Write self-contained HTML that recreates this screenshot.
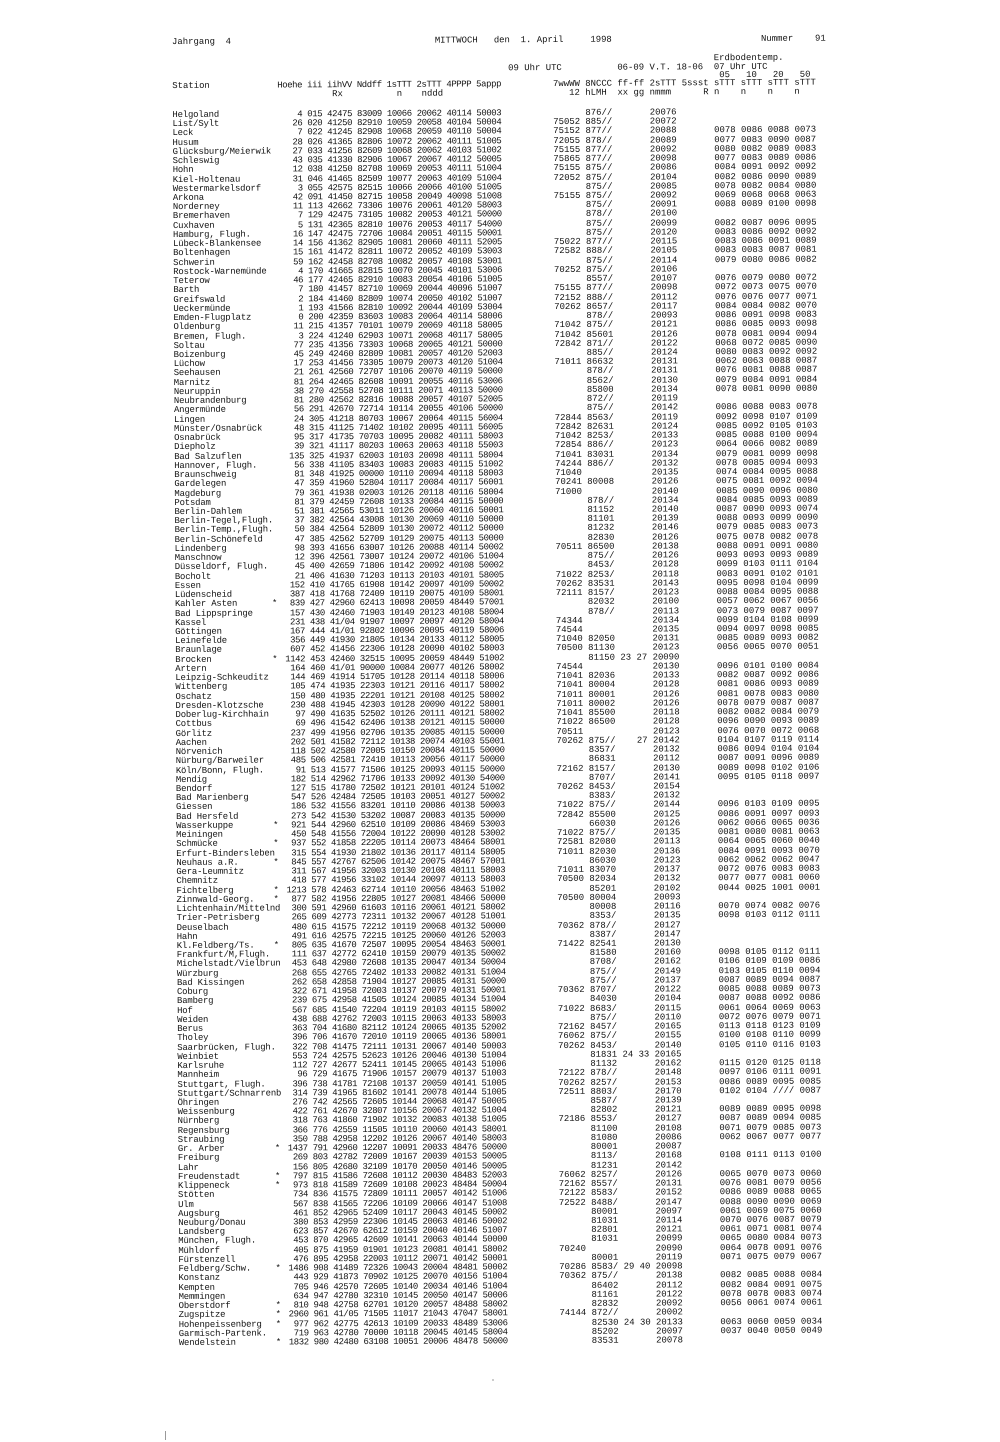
<!DOCTYPE html>
<html>
<head>
<meta charset="utf-8">
<style>
html,body{margin:0;padding:0;background:#fff}
body{width:1000px;height:1442px;overflow:hidden;position:relative}
#p{position:absolute;left:172px;top:0;width:720px;height:1400px;font-family:"Liberation Mono","DejaVu Sans Mono",monospace;font-size:8.95px;line-height:9.25px;color:#111;white-space:normal;transform:rotate(-0.3deg);transform-origin:0 40px}
#p span{position:absolute;top:0;white-space:pre}
.hl{position:absolute;left:0;height:9.25px;width:720px}
#r{position:absolute;left:0;top:110.9px;width:720px}
#r>div{position:relative;height:9.24px;overflow:visible}
.n{left:0;letter-spacing:-0.18px}
.s{left:97px}
.h{left:105px;width:24.9px;text-align:right;letter-spacing:-0.39px}
.m{left:134.9px;letter-spacing:-0.39px}
.nar{letter-spacing:-0.39px}
.w{left:71ch}
.c{left:77ch}
.t{left:89ch}
.g{left:101ch}
.mark{position:absolute;left:165px;top:1431px;width:1px;height:9px;background:#999}
.dot{position:absolute;left:492px;top:1379px;width:2px;height:2px;background:#ccc}
</style>
</head>
<body>
<div id="p">
<div class="hl" style="top:38px"><span style="left:0">Jahrgang  4</span><span style="left:49ch">MITTWOCH</span><span style="left:60ch">den</span><span style="left:65ch">1. April</span><span style="left:78ch">1998</span><span style="left:589px">Nummer</span><span style="left:643px">91</span></div>
<div class="hl" style="top:57px"><span style="left:101ch">Erdbodentemp.</span></div>
<div class="hl" style="top:65.5px"><span style="left:336px">09 Uhr UTC</span><span style="left:83ch">06-09</span><span style="left:89ch">V.T.</span><span style="left:94ch">18-06</span><span style="left:101ch">07 Uhr UTC</span></div>
<div class="hl" style="top:73.8px"><span style="left:102ch">05</span><span style="left:107ch">10</span><span style="left:112ch">20</span><span style="left:117ch">50</span></div>
<div class="hl" style="top:81.5px"><span style="left:0">Station</span><span class="nar" style="left:105px">Hoehe iii iihVV Nddff 1sTTT 2sTTT 4PPPP 5appp</span><span style="left:71ch">7wwWW 8NCCC ff-ff 2sTTT 5ssst sTTT sTTT sTTT sTTT</span></div>
<div class="hl" style="top:90.6px"><span style="left:159.8px">Rx</span><span style="left:224.5px">n</span><span style="left:249.4px">nddd</span><span style="left:74ch">12</span><span style="left:77ch">hLMH</span><span style="left:83ch">xx gg</span><span style="left:89ch">nmmm</span><span style="left:99ch">R</span><span style="left:101ch">n</span><span style="left:106ch">n</span><span style="left:111ch">n</span><span style="left:116ch">n</span></div>
<div id="r">
<div><span class="n">Helgoland</span><span class="h">4</span><span class="m">015 42475 83009 10066 20062 40114 50003</span><span class="c">876//</span><span class="t">20076</span></div>
<div><span class="n">List/Sylt</span><span class="h">26</span><span class="m">020 41250 82910 10059 20058 40104 50004</span><span class="w">75052</span><span class="c">885//</span><span class="t">20072</span></div>
<div><span class="n">Leck</span><span class="h">7</span><span class="m">022 41245 82908 10068 20059 40110 50004</span><span class="w">75152</span><span class="c">877//</span><span class="t">20088</span><span class="g">0078 0086 0088 0073</span></div>
<div><span class="n">Husum</span><span class="h">28</span><span class="m">026 41365 82806 10072 20062 40111 51005</span><span class="w">72055</span><span class="c">878//</span><span class="t">20089</span><span class="g">0077 0083 0090 0087</span></div>
<div><span class="n">Glücksburg/Meierwik</span><span class="h">27</span><span class="m">033 41256 82609 10068 20062 40103 51002</span><span class="w">75155</span><span class="c">877//</span><span class="t">20092</span><span class="g">0080 0082 0089 0083</span></div>
<div><span class="n">Schleswig</span><span class="h">43</span><span class="m">035 41330 82906 10067 20067 40112 50005</span><span class="w">75865</span><span class="c">877//</span><span class="t">20098</span><span class="g">0077 0083 0089 0086</span></div>
<div><span class="n">Hohn</span><span class="h">12</span><span class="m">038 41250 82708 10069 20053 40111 51004</span><span class="w">75155</span><span class="c">875//</span><span class="t">20086</span><span class="g">0084 0091 0092 0092</span></div>
<div><span class="n">Kiel-Holtenau</span><span class="h">31</span><span class="m">046 41465 82509 10077 20063 40109 51004</span><span class="w">72052</span><span class="c">875//</span><span class="t">20104</span><span class="g">0082 0086 0090 0089</span></div>
<div><span class="n">Westermarkelsdorf</span><span class="h">3</span><span class="m">055 42575 82515 10066 20066 40100 51005</span><span class="c">875//</span><span class="t">20085</span><span class="g">0078 0082 0084 0080</span></div>
<div><span class="n">Arkona</span><span class="h">42</span><span class="m">091 41450 82715 10058 20049 40098 51008</span><span class="w">75155</span><span class="c">875//</span><span class="t">20092</span><span class="g">0069 0068 0068 0063</span></div>
<div><span class="n">Norderney</span><span class="h">11</span><span class="m">113 42662 73306 10076 20061 40120 58003</span><span class="c">875//</span><span class="t">20091</span><span class="g">0088 0089 0100 0098</span></div>
<div><span class="n">Bremerhaven</span><span class="h">7</span><span class="m">129 42475 73105 10082 20053 40121 50000</span><span class="c">878//</span><span class="t">20100</span></div>
<div><span class="n">Cuxhaven</span><span class="h">5</span><span class="m">131 42365 82810 10076 20053 40117 54000</span><span class="c">875//</span><span class="t">20099</span><span class="g">0082 0087 0096 0095</span></div>
<div><span class="n">Hamburg, Flugh.</span><span class="h">16</span><span class="m">147 42475 72706 10084 20051 40115 50001</span><span class="c">875//</span><span class="t">20120</span><span class="g">0083 0086 0092 0092</span></div>
<div><span class="n">Lübeck-Blankensee</span><span class="h">14</span><span class="m">156 41362 82905 10081 20060 40111 52005</span><span class="w">75022</span><span class="c">877//</span><span class="t">20115</span><span class="g">0083 0086 0091 0089</span></div>
<div><span class="n">Boltenhagen</span><span class="h">15</span><span class="m">161 41472 82811 10072 20052 40109 53003</span><span class="w">72582</span><span class="c">888//</span><span class="t">20105</span><span class="g">0083 0083 0087 0081</span></div>
<div><span class="n">Schwerin</span><span class="h">59</span><span class="m">162 42458 82708 10082 20057 40108 53001</span><span class="c">875//</span><span class="t">20114</span><span class="g">0079 0080 0086 0082</span></div>
<div><span class="n">Rostock-Warnemünde</span><span class="h">4</span><span class="m">170 41665 82815 10070 20045 40101 53006</span><span class="w">70252</span><span class="c">875//</span><span class="t">20106</span></div>
<div><span class="n">Teterow</span><span class="h">46</span><span class="m">177 42465 82910 10083 20054 40106 51005</span><span class="c">8557/</span><span class="t">20107</span><span class="g">0076 0079 0080 0072</span></div>
<div><span class="n">Barth</span><span class="h">7</span><span class="m">180 41457 82710 10069 20044 40096 51007</span><span class="w">75155</span><span class="c">877//</span><span class="t">20098</span><span class="g">0072 0073 0075 0070</span></div>
<div><span class="n">Greifswald</span><span class="h">2</span><span class="m">184 41460 82809 10074 20050 40102 51007</span><span class="w">72152</span><span class="c">888//</span><span class="t">20112</span><span class="g">0076 0076 0077 0071</span></div>
<div><span class="n">Ueckermünde</span><span class="h">1</span><span class="m">193 41566 82810 10092 20044 40109 53004</span><span class="w">70262</span><span class="c">8657/</span><span class="t">20117</span><span class="g">0084 0084 0082 0070</span></div>
<div><span class="n">Emden-Flugplatz</span><span class="h">0</span><span class="m">200 42359 83603 10083 20064 40114 58006</span><span class="c">878//</span><span class="t">20093</span><span class="g">0086 0091 0098 0083</span></div>
<div><span class="n">Oldenburg</span><span class="h">11</span><span class="m">215 41357 70101 10079 20069 40118 58005</span><span class="w">71042</span><span class="c">875//</span><span class="t">20121</span><span class="g">0086 0085 0093 0098</span></div>
<div><span class="n">Bremen, Flugh.</span><span class="h">3</span><span class="m">224 41240 62903 10071 20068 40117 58005</span><span class="w">71042</span><span class="c">85601</span><span class="t">20126</span><span class="g">0078 0081 0094 0094</span></div>
<div><span class="n">Soltau</span><span class="h">77</span><span class="m">235 41356 73303 10068 20065 40121 50000</span><span class="w">72842</span><span class="c">871//</span><span class="t">20122</span><span class="g">0068 0072 0085 0090</span></div>
<div><span class="n">Boizenburg</span><span class="h">45</span><span class="m">249 42460 82809 10081 20057 40120 52003</span><span class="c">885//</span><span class="t">20124</span><span class="g">0080 0083 0092 0092</span></div>
<div><span class="n">Lüchow</span><span class="h">17</span><span class="m">253 41456 73305 10079 20073 40120 51004</span><span class="w">71011</span><span class="c">86632</span><span class="t">20131</span><span class="g">0062 0063 0088 0087</span></div>
<div><span class="n">Seehausen</span><span class="h">21</span><span class="m">261 42560 72707 10106 20070 40119 50000</span><span class="c">878//</span><span class="t">20131</span><span class="g">0076 0081 0088 0087</span></div>
<div><span class="n">Marnitz</span><span class="h">81</span><span class="m">264 42465 82608 10091 20055 40116 53006</span><span class="c">8562/</span><span class="t">20130</span><span class="g">0079 0084 0091 0084</span></div>
<div><span class="n">Neuruppin</span><span class="h">38</span><span class="m">270 42558 52708 10111 20071 40113 50000</span><span class="c">85800</span><span class="t">20134</span><span class="g">0078 0081 0090 0080</span></div>
<div><span class="n">Neubrandenburg</span><span class="h">81</span><span class="m">280 42562 82816 10088 20057 40107 52005</span><span class="c">872//</span><span class="t">20119</span></div>
<div><span class="n">Angermünde</span><span class="h">56</span><span class="m">291 42670 72714 10114 20055 40106 50000</span><span class="c">875//</span><span class="t">20142</span><span class="g">0086 0088 0083 0078</span></div>
<div><span class="n">Lingen</span><span class="h">24</span><span class="m">305 41218 80703 10067 20064 40115 56004</span><span class="w">72844</span><span class="c">8563/</span><span class="t">20119</span><span class="g">0092 0098 0107 0109</span></div>
<div><span class="n">Münster/Osnabrück</span><span class="h">48</span><span class="m">315 41125 71402 10102 20095 40111 56005</span><span class="w">72842</span><span class="c">82631</span><span class="t">20124</span><span class="g">0085 0092 0105 0103</span></div>
<div><span class="n">Osnabrück</span><span class="h">95</span><span class="m">317 41735 70703 10095 20082 40111 58003</span><span class="w">71042</span><span class="c">8253/</span><span class="t">20133</span><span class="g">0085 0088 0100 0094</span></div>
<div><span class="n">Diepholz</span><span class="h">39</span><span class="m">321 41117 80203 10063 20063 40118 55003</span><span class="w">72854</span><span class="c">886//</span><span class="t">20123</span><span class="g">0064 0066 0082 0089</span></div>
<div><span class="n">Bad Salzuflen</span><span class="h">135</span><span class="m">325 41937 62003 10103 20098 40111 58004</span><span class="w">71041</span><span class="c">83031</span><span class="t">20134</span><span class="g">0079 0081 0099 0098</span></div>
<div><span class="n">Hannover, Flugh.</span><span class="h">56</span><span class="m">338 41105 83403 10083 20083 40115 51002</span><span class="w">74244</span><span class="c">886//</span><span class="t">20132</span><span class="g">0078 0085 0094 0093</span></div>
<div><span class="n">Braunschweig</span><span class="h">81</span><span class="m">348 41925 00000 10110 20094 40118 58003</span><span class="w">71040</span><span class="t">20135</span><span class="g">0074 0084 0095 0088</span></div>
<div><span class="n">Gardelegen</span><span class="h">47</span><span class="m">359 41960 52804 10117 20084 40117 56001</span><span class="w">70241</span><span class="c">80008</span><span class="t">20126</span><span class="g">0075 0081 0092 0094</span></div>
<div><span class="n">Magdeburg</span><span class="h">79</span><span class="m">361 41938 02003 10126 20118 40116 58004</span><span class="w">71000</span><span class="t">20140</span><span class="g">0085 0090 0096 0080</span></div>
<div><span class="n">Potsdam</span><span class="h">81</span><span class="m">379 42459 72608 10133 20084 40115 50000</span><span class="c">878//</span><span class="t">20134</span><span class="g">0084 0085 0093 0089</span></div>
<div><span class="n">Berlin-Dahlem</span><span class="h">51</span><span class="m">381 42565 53011 10126 20060 40116 50001</span><span class="c">81152</span><span class="t">20140</span><span class="g">0087 0090 0093 0074</span></div>
<div><span class="n">Berlin-Tegel,Flugh.</span><span class="h">37</span><span class="m">382 42564 43008 10130 20069 40110 50000</span><span class="c">81101</span><span class="t">20139</span><span class="g">0088 0093 0099 0090</span></div>
<div><span class="n">Berlin-Temp.,Flugh.</span><span class="h">50</span><span class="m">384 42564 52809 10130 20072 40112 50000</span><span class="c">81232</span><span class="t">20146</span><span class="g">0079 0085 0083 0073</span></div>
<div><span class="n">Berlin-Schönefeld</span><span class="h">47</span><span class="m">385 42562 52709 10129 20075 40113 50000</span><span class="c">82830</span><span class="t">20126</span><span class="g">0075 0078 0082 0078</span></div>
<div><span class="n">Lindenberg</span><span class="h">98</span><span class="m">393 41656 63007 10126 20088 40114 50002</span><span class="w">70511</span><span class="c">86500</span><span class="t">20138</span><span class="g">0088 0091 0091 0080</span></div>
<div><span class="n">Manschnow</span><span class="h">12</span><span class="m">396 42561 73007 10124 20072 40106 51004</span><span class="c">875//</span><span class="t">20126</span><span class="g">0093 0093 0093 0089</span></div>
<div><span class="n">Düsseldorf, Flugh.</span><span class="h">45</span><span class="m">400 42659 71806 10142 20092 40108 50002</span><span class="c">8453/</span><span class="t">20128</span><span class="g">0099 0103 0111 0104</span></div>
<div><span class="n">Bocholt</span><span class="h">21</span><span class="m">406 41630 71203 10113 20103 40101 58005</span><span class="w">71022</span><span class="c">8253/</span><span class="t">20118</span><span class="g">0083 0091 0102 0101</span></div>
<div><span class="n">Essen</span><span class="h">152</span><span class="m">410 41765 61908 10142 20097 40109 50002</span><span class="w">70262</span><span class="c">83531</span><span class="t">20143</span><span class="g">0095 0098 0104 0099</span></div>
<div><span class="n">Lüdenscheid</span><span class="h">387</span><span class="m">418 41768 72409 10119 20075 40109 58001</span><span class="w">72111</span><span class="c">8157/</span><span class="t">20123</span><span class="g">0088 0084 0095 0088</span></div>
<div><span class="n">Kahler Asten</span><span class="s">*</span><span class="h">839</span><span class="m">427 42960 62413 10098 20059 48449 57001</span><span class="c">82032</span><span class="t">20100</span><span class="g">0057 0062 0067 0056</span></div>
<div><span class="n">Bad Lippspringe</span><span class="h">157</span><span class="m">430 42460 71903 10149 20123 40108 58004</span><span class="c">878//</span><span class="t">20113</span><span class="g">0073 0079 0087 0097</span></div>
<div><span class="n">Kassel</span><span class="h">231</span><span class="m">438 41/04 91907 10097 20097 40120 58004</span><span class="w">74344</span><span class="t">20134</span><span class="g">0099 0104 0108 0099</span></div>
<div><span class="n">Göttingen</span><span class="h">167</span><span class="m">444 41/01 92802 10096 20095 40119 58006</span><span class="w">74544</span><span class="t">20135</span><span class="g">0094 0097 0098 0085</span></div>
<div><span class="n">Leinefelde</span><span class="h">356</span><span class="m">449 41930 21805 10134 20133 40112 58005</span><span class="w">71040</span><span class="c">82050</span><span class="t">20131</span><span class="g">0085 0089 0093 0082</span></div>
<div><span class="n">Braunlage</span><span class="h">607</span><span class="m">452 41456 22306 10128 20090 40102 58003</span><span class="w">70500</span><span class="c">81130</span><span class="t">20123</span><span class="g">0056 0065 0070 0051</span></div>
<div><span class="n">Brocken</span><span class="s">*</span><span class="h">1142</span><span class="m">453 42460 32515 10095 20059 48449 51002</span><span class="c">81150 23 27</span><span class="t">20090</span></div>
<div><span class="n">Artern</span><span class="h">164</span><span class="m">460 41/01 90000 10084 20077 40126 58002</span><span class="w">74544</span><span class="t">20130</span><span class="g">0096 0101 0100 0084</span></div>
<div><span class="n">Leipzig-Schkeuditz</span><span class="h">144</span><span class="m">469 41914 51705 10128 20114 40118 58006</span><span class="w">71041</span><span class="c">82036</span><span class="t">20133</span><span class="g">0082 0087 0092 0086</span></div>
<div><span class="n">Wittenberg</span><span class="h">105</span><span class="m">474 41935 22303 10121 20116 40117 58002</span><span class="w">71041</span><span class="c">80004</span><span class="t">20128</span><span class="g">0081 0086 0093 0089</span></div>
<div><span class="n">Oschatz</span><span class="h">150</span><span class="m">480 41935 22201 10121 20108 40125 58002</span><span class="w">71011</span><span class="c">80001</span><span class="t">20126</span><span class="g">0081 0078 0083 0080</span></div>
<div><span class="n">Dresden-Klotzsche</span><span class="h">230</span><span class="m">488 41945 42303 10128 20090 40122 58001</span><span class="w">71011</span><span class="c">80002</span><span class="t">20126</span><span class="g">0078 0079 0087 0087</span></div>
<div><span class="n">Doberlug-Kirchhain</span><span class="h">97</span><span class="m">490 41635 52502 10126 20111 40121 58002</span><span class="w">71041</span><span class="c">85500</span><span class="t">20118</span><span class="g">0082 0082 0084 0079</span></div>
<div><span class="n">Cottbus</span><span class="h">69</span><span class="m">496 41542 62406 10138 20121 40115 50000</span><span class="w">71022</span><span class="c">86500</span><span class="t">20128</span><span class="g">0096 0090 0093 0089</span></div>
<div><span class="n">Görlitz</span><span class="h">237</span><span class="m">499 41956 02706 10135 20085 40115 50000</span><span class="w">70511</span><span class="t">20123</span><span class="g">0076 0070 0072 0068</span></div>
<div><span class="n">Aachen</span><span class="h">202</span><span class="m">501 41582 72112 10138 20074 40103 55001</span><span class="w">70262</span><span class="c">875//    27</span><span class="t">20142</span><span class="g">0104 0107 0119 0114</span></div>
<div><span class="n">Nörvenich</span><span class="h">118</span><span class="m">502 42580 72005 10150 20084 40115 50000</span><span class="c">8357/</span><span class="t">20132</span><span class="g">0086 0094 0104 0104</span></div>
<div><span class="n">Nürburg/Barweiler</span><span class="h">485</span><span class="m">506 42581 72410 10113 20056 40117 50000</span><span class="c">86831</span><span class="t">20112</span><span class="g">0087 0091 0096 0089</span></div>
<div><span class="n">Köln/Bonn, Flugh.</span><span class="h">91</span><span class="m">513 41577 71506 10125 20093 40115 50000</span><span class="w">72162</span><span class="c">8157/</span><span class="t">20130</span><span class="g">0089 0098 0102 0106</span></div>
<div><span class="n">Mendig</span><span class="h">182</span><span class="m">514 42962 71706 10133 20092 40130 54000</span><span class="c">8707/</span><span class="t">20141</span><span class="g">0095 0105 0118 0097</span></div>
<div><span class="n">Bendorf</span><span class="h">127</span><span class="m">515 41780 72502 10121 20101 40124 51002</span><span class="w">70262</span><span class="c">8453/</span><span class="t">20154</span></div>
<div><span class="n">Bad Marienberg</span><span class="h">547</span><span class="m">526 42484 72505 10103 20051 40127 50002</span><span class="c">8383/</span><span class="t">20132</span></div>
<div><span class="n">Giessen</span><span class="h">186</span><span class="m">532 41556 83201 10110 20086 40138 50003</span><span class="w">71022</span><span class="c">875//</span><span class="t">20144</span><span class="g">0096 0103 0109 0095</span></div>
<div><span class="n">Bad Hersfeld</span><span class="h">273</span><span class="m">542 41530 53202 10087 20083 40135 50000</span><span class="w">72842</span><span class="c">85500</span><span class="t">20125</span><span class="g">0086 0091 0097 0093</span></div>
<div><span class="n">Wasserkuppe</span><span class="s">*</span><span class="h">921</span><span class="m">544 42960 62510 10109 20086 48469 53003</span><span class="c">66030</span><span class="t">20126</span><span class="g">0062 0066 0065 0036</span></div>
<div><span class="n">Meiningen</span><span class="h">450</span><span class="m">548 41556 72004 10122 20090 40128 53002</span><span class="w">71022</span><span class="c">875//</span><span class="t">20135</span><span class="g">0081 0080 0081 0063</span></div>
<div><span class="n">Schmücke</span><span class="s">*</span><span class="h">937</span><span class="m">552 41858 22205 10114 20073 48464 58001</span><span class="w">72581</span><span class="c">82080</span><span class="t">20113</span><span class="g">0064 0065 0060 0040</span></div>
<div><span class="n">Erfurt-Bindersleben</span><span class="h">315</span><span class="m">554 41930 21802 10136 20117 40114 58005</span><span class="w">71011</span><span class="c">82030</span><span class="t">20136</span><span class="g">0084 0091 0093 0070</span></div>
<div><span class="n">Neuhaus a.R.</span><span class="s">*</span><span class="h">845</span><span class="m">557 42767 62506 10142 20075 48467 57001</span><span class="c">86030</span><span class="t">20123</span><span class="g">0062 0062 0062 0047</span></div>
<div><span class="n">Gera-Leumnitz</span><span class="h">311</span><span class="m">567 41956 32003 10130 20108 40111 58003</span><span class="w">71011</span><span class="c">83070</span><span class="t">20137</span><span class="g">0072 0076 0083 0083</span></div>
<div><span class="n">Chemnitz</span><span class="h">418</span><span class="m">577 41956 33102 10144 20097 40113 58003</span><span class="w">70500</span><span class="c">82034</span><span class="t">20132</span><span class="g">0077 0077 0081 0060</span></div>
<div><span class="n">Fichtelberg</span><span class="s">*</span><span class="h">1213</span><span class="m">578 42463 62714 10110 20056 48463 51002</span><span class="c">85201</span><span class="t">20102</span><span class="g">0044 0025 1001 0001</span></div>
<div><span class="n">Zinnwald-Georg.</span><span class="s">*</span><span class="h">877</span><span class="m">582 41956 22805 10127 20081 48466 50000</span><span class="w">70500</span><span class="c">80004</span><span class="t">20093</span></div>
<div><span class="n">Lichtenhain/Mittelnd</span><span class="h">300</span><span class="m">591 42960 61603 10116 20061 40121 58002</span><span class="c">80008</span><span class="t">20116</span><span class="g">0070 0074 0082 0076</span></div>
<div><span class="n">Trier-Petrisberg</span><span class="h">265</span><span class="m">609 42773 72311 10132 20067 40128 51001</span><span class="c">8353/</span><span class="t">20135</span><span class="g">0098 0103 0112 0111</span></div>
<div><span class="n">Deuselbach</span><span class="h">480</span><span class="m">615 41575 72212 10119 20068 40132 50000</span><span class="w">70362</span><span class="c">878//</span><span class="t">20127</span></div>
<div><span class="n">Hahn</span><span class="h">491</span><span class="m">616 42575 72215 10125 20060 40126 52003</span><span class="c">8387/</span><span class="t">20147</span></div>
<div><span class="n">Kl.Feldberg/Ts.</span><span class="s">*</span><span class="h">805</span><span class="m">635 41670 72507 10095 20054 48463 50001</span><span class="w">71422</span><span class="c">82541</span><span class="t">20130</span></div>
<div><span class="n">Frankfurt/M,Flugh.</span><span class="h">111</span><span class="m">637 42772 62410 10159 20079 40135 50002</span><span class="c">81580</span><span class="t">20160</span><span class="g">0098 0105 0112 0111</span></div>
<div><span class="n">Michelstadt/Vielbrun</span><span class="h">453</span><span class="m">648 42980 72608 10135 20047 40134 50004</span><span class="c">8708/</span><span class="t">20162</span><span class="g">0106 0109 0109 0086</span></div>
<div><span class="n">Würzburg</span><span class="h">268</span><span class="m">655 42765 72402 10133 20082 40131 51004</span><span class="c">875//</span><span class="t">20149</span><span class="g">0103 0105 0110 0094</span></div>
<div><span class="n">Bad Kissingen</span><span class="h">262</span><span class="m">658 42858 71904 10127 20085 40131 50000</span><span class="c">875//</span><span class="t">20137</span><span class="g">0087 0089 0094 0087</span></div>
<div><span class="n">Coburg</span><span class="h">322</span><span class="m">671 41958 72003 10137 20079 40131 50001</span><span class="w">70362</span><span class="c">8707/</span><span class="t">20122</span><span class="g">0085 0088 0089 0073</span></div>
<div><span class="n">Bamberg</span><span class="h">239</span><span class="m">675 42958 41505 10124 20085 40134 51004</span><span class="c">84030</span><span class="t">20104</span><span class="g">0087 0088 0092 0086</span></div>
<div><span class="n">Hof</span><span class="h">567</span><span class="m">685 41540 72204 10119 20103 40115 58002</span><span class="w">71022</span><span class="c">8683/</span><span class="t">20115</span><span class="g">0061 0064 0069 0063</span></div>
<div><span class="n">Weiden</span><span class="h">438</span><span class="m">688 42762 72003 10115 20063 40133 58003</span><span class="c">875//</span><span class="t">20110</span><span class="g">0072 0076 0079 0071</span></div>
<div><span class="n">Berus</span><span class="h">363</span><span class="m">704 41680 82112 10124 20065 40135 52002</span><span class="w">72162</span><span class="c">8457/</span><span class="t">20165</span><span class="g">0113 0118 0123 0109</span></div>
<div><span class="n">Tholey</span><span class="h">396</span><span class="m">706 41670 72010 10119 20065 40136 58001</span><span class="w">76062</span><span class="c">875//</span><span class="t">20155</span><span class="g">0100 0108 0110 0099</span></div>
<div><span class="n">Saarbrücken, Flugh.</span><span class="h">322</span><span class="m">708 41475 72111 10131 20067 40140 50003</span><span class="w">70262</span><span class="c">8453/</span><span class="t">20140</span><span class="g">0105 0110 0116 0103</span></div>
<div><span class="n">Weinbiet</span><span class="h">553</span><span class="m">724 42575 52623 10126 20046 40130 51004</span><span class="c">81831 24 33</span><span class="t">20165</span></div>
<div><span class="n">Karlsruhe</span><span class="h">112</span><span class="m">727 42677 52411 10145 20065 40143 51006</span><span class="c">81132</span><span class="t">20162</span><span class="g">0115 0120 0125 0118</span></div>
<div><span class="n">Mannheim</span><span class="h">96</span><span class="m">729 41675 71906 10157 20079 40137 51003</span><span class="w">72122</span><span class="c">878//</span><span class="t">20148</span><span class="g">0097 0106 0111 0091</span></div>
<div><span class="n">Stuttgart, Flugh.</span><span class="h">396</span><span class="m">738 41781 72108 10137 20059 40141 51005</span><span class="w">70262</span><span class="c">8257/</span><span class="t">20153</span><span class="g">0086 0089 0095 0085</span></div>
<div><span class="n">Stuttgart/Schnarrenb</span><span class="h">314</span><span class="m">739 41965 81602 10141 20078 40144 51005</span><span class="w">72511</span><span class="c">8803/</span><span class="t">20170</span><span class="g">0102 0104 //// 0087</span></div>
<div><span class="n">Öhringen</span><span class="h">276</span><span class="m">742 42565 72605 10144 20068 40147 50005</span><span class="c">8587/</span><span class="t">20139</span></div>
<div><span class="n">Weissenburg</span><span class="h">422</span><span class="m">761 42670 32807 10156 20067 40132 51004</span><span class="c">82802</span><span class="t">20121</span><span class="g">0089 0089 0095 0098</span></div>
<div><span class="n">Nürnberg</span><span class="h">318</span><span class="m">763 41860 71902 10132 20083 40138 51005</span><span class="w">72186</span><span class="c">8553/</span><span class="t">20127</span><span class="g">0087 0089 0094 0085</span></div>
<div><span class="n">Regensburg</span><span class="h">366</span><span class="m">776 42559 11505 10110 20060 40143 58001</span><span class="c">81100</span><span class="t">20108</span><span class="g">0071 0079 0085 0073</span></div>
<div><span class="n">Straubing</span><span class="h">350</span><span class="m">788 42958 12202 10126 20067 40140 58003</span><span class="c">81080</span><span class="t">20086</span><span class="g">0062 0067 0077 0077</span></div>
<div><span class="n">Gr. Arber</span><span class="s">*</span><span class="h">1437</span><span class="m">791 42960 12207 10091 20033 48476 50000</span><span class="c">80001</span><span class="t">20087</span></div>
<div><span class="n">Freiburg</span><span class="h">269</span><span class="m">803 42782 72009 10167 20039 40153 50005</span><span class="c">8113/</span><span class="t">20168</span><span class="g">0108 0111 0113 0100</span></div>
<div><span class="n">Lahr</span><span class="h">156</span><span class="m">805 42680 32109 10170 20050 40146 50005</span><span class="c">81231</span><span class="t">20142</span></div>
<div><span class="n">Freudenstadt</span><span class="s">*</span><span class="h">797</span><span class="m">815 41586 72608 10112 20030 48483 52003</span><span class="w">76062</span><span class="c">8257/</span><span class="t">20126</span><span class="g">0065 0070 0073 0060</span></div>
<div><span class="n">Klippeneck</span><span class="s">*</span><span class="h">973</span><span class="m">818 41589 72609 10108 20023 48484 50004</span><span class="w">72162</span><span class="c">8557/</span><span class="t">20131</span><span class="g">0076 0081 0079 0056</span></div>
<div><span class="n">Stötten</span><span class="h">734</span><span class="m">836 41575 72809 10111 20057 40142 51006</span><span class="w">72122</span><span class="c">8583/</span><span class="t">20152</span><span class="g">0086 0089 0088 0065</span></div>
<div><span class="n">Ulm</span><span class="h">567</span><span class="m">838 41565 72206 10109 20066 40147 51008</span><span class="w">72522</span><span class="c">8488/</span><span class="t">20147</span><span class="g">0088 0090 0090 0069</span></div>
<div><span class="n">Augsburg</span><span class="h">461</span><span class="m">852 42965 52409 10117 20043 40145 50002</span><span class="c">80001</span><span class="t">20097</span><span class="g">0061 0069 0075 0060</span></div>
<div><span class="n">Neuburg/Donau</span><span class="h">380</span><span class="m">853 42959 22306 10145 20063 40146 50002</span><span class="c">81031</span><span class="t">20114</span><span class="g">0070 0076 0087 0079</span></div>
<div><span class="n">Landsberg</span><span class="h">623</span><span class="m">857 42670 62612 10159 20040 40146 51007</span><span class="c">82801</span><span class="t">20121</span><span class="g">0061 0071 0081 0074</span></div>
<div><span class="n">München, Flugh.</span><span class="h">453</span><span class="m">870 42965 42609 10141 20063 40144 50000</span><span class="c">81031</span><span class="t">20099</span><span class="g">0065 0080 0084 0073</span></div>
<div><span class="n">Mühldorf</span><span class="h">405</span><span class="m">875 41959 01901 10123 20081 40141 58002</span><span class="w">70240</span><span class="t">20090</span><span class="g">0064 0078 0091 0076</span></div>
<div><span class="n">Fürstenzell</span><span class="h">476</span><span class="m">895 42958 22003 10112 20071 40142 50001</span><span class="c">80001</span><span class="t">20119</span><span class="g">0071 0075 0079 0067</span></div>
<div><span class="n">Feldberg/Schw.</span><span class="s">*</span><span class="h">1486</span><span class="m">908 41489 72326 10043 20004 48481 50002</span><span class="w">70286</span><span class="c">8583/ 29 40</span><span class="t">20098</span></div>
<div><span class="n">Konstanz</span><span class="h">443</span><span class="m">929 41873 70902 10125 20070 40156 51004</span><span class="w">70362</span><span class="c">875//</span><span class="t">20138</span><span class="g">0082 0085 0088 0084</span></div>
<div><span class="n">Kempten</span><span class="h">705</span><span class="m">946 42570 72605 10140 20034 40146 51004</span><span class="c">86402</span><span class="t">20112</span><span class="g">0082 0084 0091 0075</span></div>
<div><span class="n">Memmingen</span><span class="h">634</span><span class="m">947 42780 32310 10145 20050 40147 50006</span><span class="c">81161</span><span class="t">20122</span><span class="g">0078 0078 0083 0074</span></div>
<div><span class="n">Oberstdorf</span><span class="s">*</span><span class="h">810</span><span class="m">948 42758 62701 10120 20057 48488 58002</span><span class="c">82832</span><span class="t">20092</span><span class="g">0056 0061 0074 0061</span></div>
<div><span class="n">Zugspitze</span><span class="s">*</span><span class="h">2960</span><span class="m">961 41/05 71505 11017 21043 47047 58001</span><span class="w">74144</span><span class="c">872//</span><span class="t">20002</span></div>
<div><span class="n">Hohenpeissenberg</span><span class="s">*</span><span class="h">977</span><span class="m">962 42775 42613 10109 20033 48489 53006</span><span class="c">82530 24 30</span><span class="t">20133</span><span class="g">0063 0060 0059 0034</span></div>
<div><span class="n">Garmisch-Partenk.</span><span class="h">719</span><span class="m">963 42780 70000 10118 20045 40145 58004</span><span class="c">85202</span><span class="t">20097</span><span class="g">0037 0040 0050 0049</span></div>
<div><span class="n">Wendelstein</span><span class="s">*</span><span class="h">1832</span><span class="m">980 42480 63108 10051 20006 48478 50000</span><span class="c">83531</span><span class="t">20078</span></div>
</div>
</div>
<div class="dot"></div>
<div class="mark"></div>
</body>
</html>
